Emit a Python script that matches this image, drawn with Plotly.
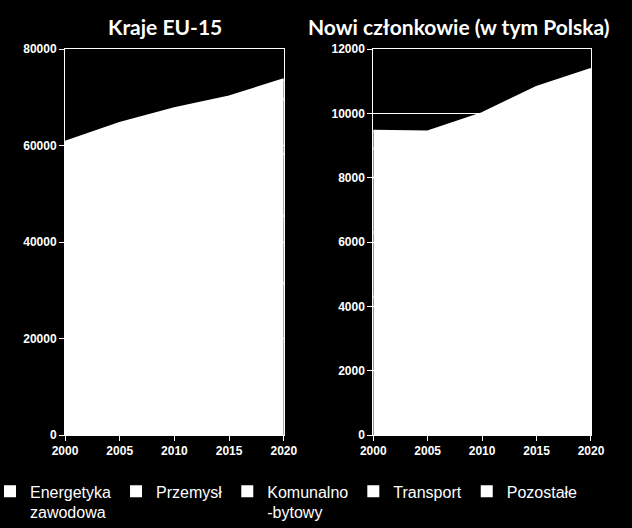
import plotly.graph_objects as go
from plotly.subplots import make_subplots

years = [2000, 2005, 2010, 2015, 2020]
sectors = ["Energetyka<br>zawodowa", "Przemysł", "Komunalno<br>-bytowy", "Transport", "Pozostałe"]

# EU-15 (stacked, totals approx. 60.7k -> 73.7k)
eu15_energetyka = [25500, 27000, 28500, 29800, 31500]
eu15_przemysl = [12000, 12500, 13000, 13400, 14000]
eu15_komunalno = [11000, 11500, 12000, 12300, 12800]
eu15_transport = [8200, 9300, 10100, 10700, 11400]
eu15_pozostale = [4000, 4300, 4100, 3900, 4000]

# Nowi członkowie (totals approx. 9.45k -> 11.4k)
nms_energetyka = [4300, 4200, 4400, 4700, 4900]
nms_przemysl = [2000, 1950, 2100, 2250, 2350]
nms_komunalno = [1700, 1650, 1700, 1750, 1800]
nms_transport = [900, 1050, 1250, 1500, 1700]
nms_pozostale = [550, 580, 550, 610, 620]

eu15 = [eu15_energetyka, eu15_przemysl, eu15_komunalno, eu15_transport, eu15_pozostale]
nms = [nms_energetyka, nms_przemysl, nms_komunalno, nms_transport, nms_pozostale]

fig = make_subplots(rows=1, cols=2, horizontal_spacing=0.17)

for i, name in enumerate(sectors):
    # all sectors are white in the original, so the stack reads as one area
    fig.add_trace(go.Scatter(
        x=years, y=eu15[i], name=name, stackgroup="eu",
        mode="lines", line=dict(width=2.5, color="white"), fillcolor="white",
        showlegend=False,
    ), row=1, col=1)
    fig.add_trace(go.Scatter(
        x=years, y=nms[i], name=name, stackgroup="nms",
        mode="lines", line=dict(width=2.5, color="white"), fillcolor="white",
        showlegend=False,
    ), row=1, col=2)
    # legend entry with a square symbol
    fig.add_trace(go.Scatter(
        x=[None], y=[None], name=name, mode="markers",
        marker=dict(symbol="square", size=12, color="white"),
    ), row=1, col=1)

tick_font = dict(family="Liberation Sans, Arial, sans-serif", size=12, color="white", weight="bold")
axis_common = dict(showline=True, linecolor="white", linewidth=1, mirror=True,
                   ticks="outside", ticklen=5, tickcolor="white", tickfont=tick_font,
                   zeroline=False)

fig.update_xaxes(range=[2000, 2020], tickvals=years, showgrid=False, **axis_common)
fig.update_yaxes(range=[0, 80000], dtick=20000, tickformat="d", showgrid=True, gridcolor="white",
                 gridwidth=1, **axis_common, row=1, col=1)
fig.update_yaxes(range=[0, 12000], dtick=2000, tickformat="d", showgrid=True, gridcolor="white",
                 gridwidth=1, **axis_common, row=1, col=2)

fig.update_layout(xaxis=dict(domain=[0, 0.416]), xaxis2=dict(domain=[0.586, 1]))

title_font = dict(family="Lato, Noto Sans, sans-serif", size=21, color="white", weight="bold")
fig.add_annotation(text="Kraje EU-15", x=0.19, y=1.022, xref="paper", yref="paper",
                   showarrow=False, font=title_font, xanchor="center", yanchor="bottom")
fig.add_annotation(text="Nowi członkowie (w tym Polska)", x=0.749, y=1.022, xref="paper", yref="paper",
                   showarrow=False, font=title_font, xanchor="center", yanchor="bottom")

fig.update_layout(
    width=632, height=528,
    paper_bgcolor="black", plot_bgcolor="black",
    margin=dict(l=65, r=41, t=49, b=93, autoexpand=False),
    showlegend=True,
    legend=dict(orientation="h", x=-0.1426, y=-0.102, xanchor="left", yanchor="top",
                traceorder="normal",
                font=dict(family="Liberation Sans, Arial, sans-serif", size=16, color="white"),
                bgcolor="rgba(0,0,0,0)", itemwidth=30, valign="top"),
)

fig.write_html("out.html", config={"displayModeBar": False},
               post_script="document.body.style.margin='0';")
